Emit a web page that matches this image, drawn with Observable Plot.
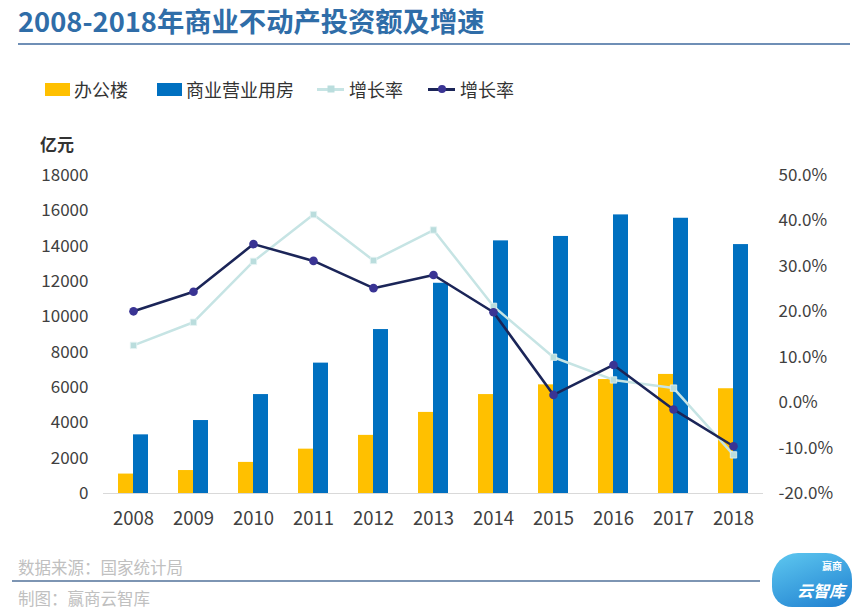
<!DOCTYPE html>
<html><head><meta charset="utf-8">
<script src="https://cdn.jsdelivr.net/npm/d3@7"></script>
<script src="https://cdn.jsdelivr.net/npm/@observablehq/plot@0.6"></script>
<style>
body{margin:0;background:#fff;font-family:"Noto Sans CJK SC","Noto Sans",sans-serif;}
#wrap{position:relative;width:868px;height:609px;overflow:hidden;background:#fff;}
#title{position:absolute;left:18px;top:0px;font-size:27.3px;font-weight:700;color:#2F6DA8;letter-spacing:0px;white-space:nowrap;}
#rule1{position:absolute;left:18px;top:43px;width:832px;height:2px;background:#6f8fb6;}
#legend{position:absolute;left:45px;top:76px;display:flex;align-items:center;font-size:18px;color:#333;white-space:nowrap;}
.item{display:flex;align-items:center;margin-right:0;}
.sw{display:inline-block;width:25px;height:13px;margin-right:4px;}
.ln{position:relative;display:inline-block;width:27px;height:3px;margin-right:5px;}
.ln i{position:absolute;left:50%;top:50%;transform:translate(-50%,-50%);}
#unit{position:absolute;left:40px;top:131px;font-size:17px;font-weight:700;color:#333;}
#chart{position:absolute;left:0;top:120px;}
#src{position:absolute;left:18px;top:555px;font-size:16.5px;color:#c0c0c0;}
#rule2{position:absolute;left:12px;top:580px;width:748px;height:2px;background:#7d95b3;}
#made{position:absolute;left:18px;top:586px;font-size:16.5px;color:#c0c0c0;}
#logo{position:absolute;left:772px;top:553px;width:80px;height:54px;border-radius:26px 26px 20px 20px;background:linear-gradient(160deg,#5ec8f0,#1f7fd0);color:#fff;font-weight:700;}
#logo .a{position:absolute;right:10px;top:6px;font-size:10px;line-height:14px;}
#logo .b{position:absolute;right:7px;top:26px;font-size:16px;line-height:22px;font-style:italic;}
</style></head><body>
<div id="wrap">
  <div id="title">2008-2018年商业不动产投资额及增速</div>
  <div id="rule1"></div>
  <div id="legend"></div>
  <div id="unit">亿元</div>
  <div id="chart"></div>
  <div id="src">数据来源：国家统计局</div>
  <div id="rule2"></div>
  <div id="made">制图：赢商云智库</div>
  <div id="logo"><div class="a">赢商</div><div class="b">云智库</div></div>
</div>
<script>
const years = ["2008","2009","2010","2011","2012","2013","2014","2015","2016","2017","2018"];
const office = [1100, 1300, 1760, 2510, 3290, 4590, 5600, 6150, 6450, 6740, 5930];
const commercial = [3320, 4130, 5600, 7380, 9280, 11900, 14300, 14550, 15770, 15580, 14090];
const growthOffice = [12.6, 17.7, 31.1, 41.4, 31.3, 38.0, 21.2, 10.0, 5.0, 3.2, -11.5];
const growthCommercial = [20.1, 24.4, 34.9, 31.2, 25.2, 28.1, 19.9, 1.7, 8.3, -1.5, -9.6];
const leftTicks = [0, 2000, 4000, 6000, 8000, 10000, 12000, 14000, 16000, 18000];
const rightTicks = [-20, -10, 0, 10, 20, 30, 40, 50];
const seriesNames = ["办公楼", "商业营业用房", "增长率", "增长率"];

const colors = {office:"#FFC000", commercial:"#0070C0", light:"#C6E4E4", lightMark:"#BADDDD", dark:"#1B2558", darkMark:"#3A3494"};

const leftMax = 18000, rMin = -20, rMax = 50;
const toLeft = p => (p - rMin) * leftMax / (rMax - rMin);
const fromLeft = v => v * (rMax - rMin) / leftMax + rMin;

const rows = years.map((y, i) => ({
  year: y, office: office[i], commercial: commercial[i],
  gOffice: growthOffice[i], gCommercial: growthCommercial[i]
}));

// legend
const lg = document.getElementById("legend");
const legendDefs = [
  {html:`<span class="sw" style="background:${colors.office}"></span>`, gap:29},
  {html:`<span class="sw" style="background:${colors.commercial}"></span>`, gap:23},
  {html:`<span class="ln" style="background:${colors.light}"><i style="width:7px;height:7px;background:${colors.lightMark}"></i></span>`, gap:25},
  {html:`<span class="ln" style="background:${colors.dark}"><i style="width:8px;height:8px;border-radius:50%;background:${colors.darkMark}"></i></span>`, gap:0}
];
legendDefs.forEach((d, i) => {
  const el = document.createElement("div");
  el.className = "item";
  el.style.marginRight = d.gap + "px";
  el.innerHTML = d.html + `<span>${seriesNames[i]}</span>`;
  lg.appendChild(el);
});

const chart = Plot.plot({
  width: 868, height: 420,
  marginTop: 55, marginBottom: 47, marginLeft: 103, marginRight: 105,
  style: {background: "transparent", fontFamily: '"Noto Sans CJK SC","Noto Sans",sans-serif', color: "#404040", overflow: "visible"},
  x: {type: "band", domain: years, paddingInner: 0.5, paddingOuter: 0.25, label: null},
  y: {domain: [0, leftMax], label: null},
  marks: [
    Plot.axisY({ticks: leftTicks, tickSize: 0, tickPadding: 15, fontSize: 17, label: null, tickFormat: d => String(d)}),
    Plot.axisY({anchor: "right", ticks: rightTicks.map(toLeft), tickSize: 0, tickPadding: 15, fontSize: 17, label: null,
      tickFormat: v => Math.round(fromLeft(v)).toFixed(1) + "%"}),
    Plot.axisX({tickSize: 0, tickPadding: 18, fontSize: 18.5, label: null}),
    Plot.ruleY([0], {stroke: "#d9d9d9", strokeWidth: 1.2}),
    Plot.barY(rows, {x: "year", y: "office", fill: colors.office, insetRight: 15}),
    Plot.barY(rows, {x: "year", y: "commercial", fill: colors.commercial, insetLeft: 15}),
    Plot.line(rows, {x: "year", y: d => toLeft(d.gOffice), stroke: colors.light, strokeWidth: 2.5}),
    Plot.dot(rows, {x: "year", y: d => toLeft(d.gOffice), symbol: "square", r: 3.6, fill: colors.lightMark, stroke: "#e6f4f4", strokeWidth: 0.8}),
    Plot.line(rows, {x: "year", y: d => toLeft(d.gCommercial), stroke: colors.dark, strokeWidth: 2.6}),
    Plot.dot(rows, {x: "year", y: d => toLeft(d.gCommercial), r: 4.3, fill: colors.darkMark, stroke: "none"})
  ]
});
document.getElementById("chart").appendChild(chart);
</script>
</body></html>
